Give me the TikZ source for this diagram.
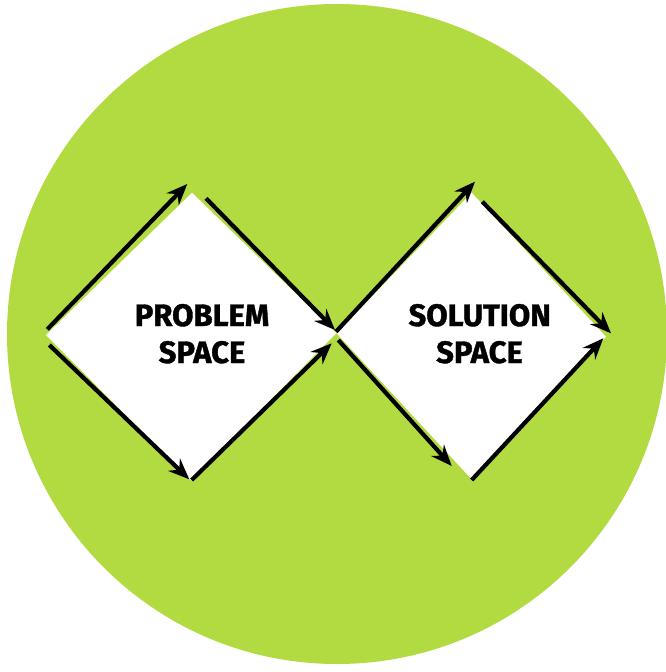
\documentclass[tikz,border=0pt]{standalone}
\usepackage{fontspec}
\setmainfont{Fira Sans}[BoldFeatures={FakeBold=1.2}]
\usetikzlibrary{arrows.meta}
\definecolor{leaf}{HTML}{B1DB41}
\begin{document}
\begin{tikzpicture}[x=1pt,y=-1pt,
  flow/.style={line width=4.2pt,-{Stealth[length=21pt,width=17pt,inset=7pt]}},
  label/.style={anchor=base,inner sep=0pt,font=\fontsize{31}{37}\selectfont\bfseries}]
\useasboundingbox (0,0) rectangle (666,672);
\fill[white] (0,0) rectangle (666,672);
\fill[leaf] (337,334) circle[radius=330];
% diamonds
\coordinate (pl) at (46,335);
\coordinate (pt) at (192,192.7);
\coordinate (pr) at (336.5,333);
\coordinate (pb) at (191,480.7);
\coordinate (sl) at (336.5,333.3);
\coordinate (st) at (471.7,192.7);
\coordinate (sr) at (606,336.7);
\coordinate (sb) at (471.7,479.3);
\fill[white] (pl) -- (pt) -- (pr) -- (pb) -- cycle;
\fill[white] (sl) -- (st) -- (sr) -- (sb) -- cycle;
% arrow end points
\coordinate (a1s) at (47.3,329.3);  \coordinate (a1e) at (187.3,184);
\coordinate (a2s) at (206,198.3);   \coordinate (a2e) at (335,330);
\coordinate (a3s) at (49.3,345);    \coordinate (a3e) at (189.3,479.3);
\coordinate (a4s) at (191.7,480);   \coordinate (a4e) at (331.7,343.3);
\coordinate (a5s) at (336,331.7);   \coordinate (a5e) at (475,181.7);
\coordinate (a6s) at (482.3,201.7); \coordinate (a6e) at (611,333.3);
\coordinate (a7s) at (338.3,340);   \coordinate (a7e) at (451.7,466);
\coordinate (a8s) at (471.7,480);   \coordinate (a8e) at (603.3,338.3);
\foreach \i in {1,...,8} \draw[flow] (a\i s) -- (a\i e);
% labels
\node[label] (p1) at (202,326) {PROBLEM};
\node[label] (p2) at (202,363) {SPACE};
\node[label] (s1) at (479.7,326) {SOLUTION};
\node[label] (s2) at (479.5,363) {SPACE};
\end{tikzpicture}
\end{document}
